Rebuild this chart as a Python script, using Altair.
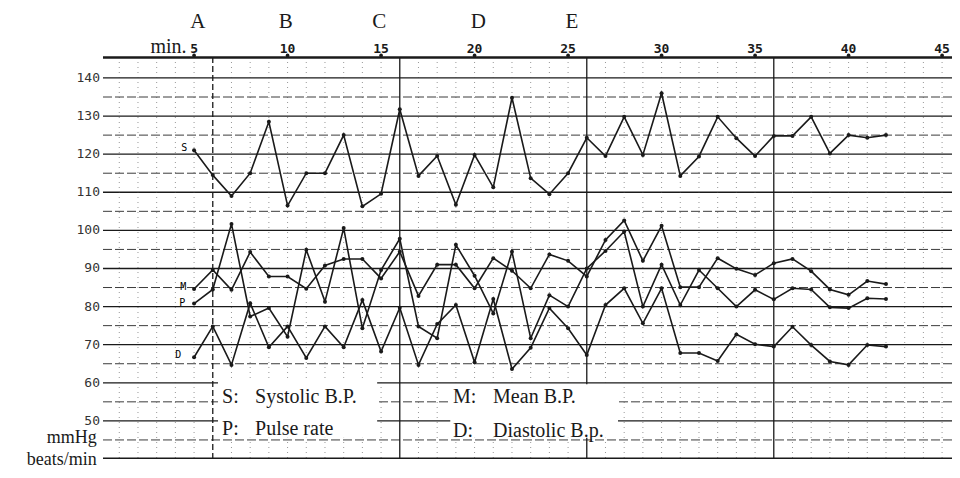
import altair as alt
import pandas as pd

# ---- data ----
minutes = list(range(5, 43))
systolic = [121, 114.5, 109, 115, 128.5, 106.5, 115, 115, 125, 106.3,
            109.6, 131.8, 114.3, 119.5, 106.7, 119.8, 111.3, 134.8, 113.7, 109.5,
            115, 124.3, 119.5, 129.8, 119.8, 136, 114.3, 119.4, 129.8, 124.2,
            119.5, 124.8, 124.8, 129.8, 120.2, 125, 124.3, 125]
mean_bp = [84.6, 89.6, 84.4, 94.3, 87.9, 87.9, 84.7, 90.8, 92.5, 92.5,
           87.4, 94.4, 82.8, 91, 91, 84.8, 92.7, 89.4, 84.8, 93.7,
           92, 87.9, 97.5, 102.6, 92, 101.2, 85.1, 85.1, 92.7, 89.9,
           88.3, 91.4, 92.5, 89.3, 84.5, 83.1, 86.7, 85.9]
pulse = [80.8, 84.5, 101.7, 77.4, 79.6, 72.1, 94.9, 81.3, 100.6, 74.3,
         89.6, 97.8, 74.8, 71.7, 96.2, 88.1, 78.2, 94.4, 71.7, 83,
         80, 90, 94.6, 99.7, 80, 91, 80.4, 89.6, 84.8, 80,
         84.4, 81.9, 84.8, 84.5, 79.8, 79.6, 82.2, 82]
diastolic = [66.7, 74.8, 64.7, 80.9, 69.3, 74.8, 66.5, 74.8, 69.3, 81.7,
             68.2, 79.7, 64.7, 75.4, 80.4, 65.4, 82, 63.6, 69.2, 79.6,
             74.3, 67.3, 80.4, 84.8, 75.6, 84.8, 67.8, 67.8, 65.7, 72.7,
             70.1, 69.5, 74.7, 69.9, 65.6, 64.7, 69.9, 69.5]

y_ticks = [50, 60, 70, 80, 90, 100, 110, 120, 130, 140]
half_lines = [45, 55, 65, 75, 85, 95, 105, 115, 125, 135]
x_ticks = [5, 10, 15, 20, 25, 30, 35, 40, 45]
solid_vlines = [16, 26, 36]
dashed_vlines = [6]
dotted_vlines = [m for m in range(1, 46) if m not in (6, 16, 26, 36)]

phase_letters = ["A", "B", "C", "D", "E"]
phase_minutes = [5.2, 9.9, 14.9, 20.2, 25.2]

series_keys = ["S", "M", "P", "D"]
legend_names = ["Systolic B.P.", "Mean B.P.", "Pulse rate", "Diastolic B.p."]

# ---- tables ----
rows = []
for key, vals in zip(series_keys, [systolic, mean_bp, pulse, diastolic]):
    for m, v in zip(minutes, vals):
        rows.append({"minute": m, "value": v, "series": key})
df = pd.DataFrame(rows)

XS = alt.Scale(domain=[0.13, 45.53], nice=False, zero=False)
YS = alt.Scale(domain=[40, 145.5], nice=False, zero=False)
INK = "#1a1a1a"
TOP = 145.5

def X(field):
    return alt.X(field, type="quantitative", scale=XS, axis=None, title=None)

def Y(field):
    return alt.Y(field, type="quantitative", scale=YS, axis=None, title=None)

# grid lines
major = alt.Chart(pd.DataFrame({"y": y_ticks})).mark_rule(color=INK, strokeWidth=1.3).encode(y=Y("y"))
minor = alt.Chart(pd.DataFrame({"y": half_lines})).mark_rule(
    color=INK, strokeWidth=1, strokeDash=[9, 3], opacity=0.85).encode(y=Y("y"))
frame = alt.Chart(pd.DataFrame({"y": [TOP - 0.15]})).mark_rule(color=INK, strokeWidth=2.4).encode(y=Y("y"))
bottom = alt.Chart(pd.DataFrame({"y": [40.2]})).mark_rule(color=INK, strokeWidth=1.6).encode(y=Y("y"))

dotted = alt.Chart(pd.DataFrame({"x": dotted_vlines})).mark_rule(
    color="#444", strokeWidth=1, strokeDash=[1, 4], opacity=0.55).encode(x=X("x"))
vsolid = alt.Chart(pd.DataFrame({"x": solid_vlines})).mark_rule(color=INK, strokeWidth=1.3).encode(x=X("x"))
vdash = alt.Chart(pd.DataFrame({"x": dashed_vlines})).mark_rule(
    color=INK, strokeWidth=1.3, strokeDash=[6, 3]).encode(x=X("x"))

# tick labels (y on the left, minutes along the top)
ylab = alt.Chart(pd.DataFrame({"v": y_ticks, "x": [-0.03] * len(y_ticks)})).mark_text(
    font="DejaVu Sans Mono", fontSize=13, color="#333", align="right", baseline="middle").encode(
    x=X("x"), y=Y("v"), text=alt.Text("v:Q"))
xlab = alt.Chart(pd.DataFrame({"m": x_ticks, "y": [146.6] * len(x_ticks)})).mark_text(
    font="DejaVu Sans Mono", fontSize=13, fontWeight="bold", color=INK,
    align="center", baseline="alphabetic").encode(
    x=X("m"), y=Y("y"), text=alt.Text("m:Q"))
xdots = alt.Chart(pd.DataFrame({"m": x_ticks, "y": [TOP + 0.4] * len(x_ticks)})).mark_circle(
    color=INK, size=14, opacity=1).encode(x=X("m"), y=Y("y"))

# legend boxes (white panels over the grid)
boxes = pd.DataFrame({"x": [6.28, 18.7], "x2": [14.79, 27.67], "y": [60.5, 59.6], "y2": [45.6, 45.6]})
box_layer = alt.Chart(boxes).mark_rect(color="white").encode(
    x=X("x"), x2="x2", y=Y("y"), y2="y2")

legend_df = pd.DataFrame({
    "key": ["S:", "M:", "P:", "D:"],
    "name": legend_names,
    "kx": [6.5, 18.85, 6.5, 18.85],
    "nx": [8.26, 20.99, 8.26, 20.99],
    "y": [54.7, 54.7, 46.4, 45.8],
})
legend_keys = alt.Chart(legend_df).mark_text(
    font="Liberation Serif", fontSize=20, align="left", baseline="alphabetic", color=INK).encode(
    x=X("kx"), y=Y("y"), text="key:N")
legend_names_layer = alt.Chart(legend_df).mark_text(
    font="Liberation Serif", fontSize=20, align="left", baseline="alphabetic", color=INK).encode(
    x=X("nx"), y=Y("y"), text="name:N")

# data
lines = alt.Chart(df).mark_line(color=INK, strokeWidth=1.6).encode(
    x=X("minute"), y=Y("value"), detail="series:N")
points = alt.Chart(df).mark_circle(color=INK, size=16, opacity=1).encode(
    x=X("minute"), y=Y("value"), detail="series:N")

# series tags near first points
tags = pd.DataFrame({"t": ["S", "M", "P", "D"], "x": [4.47, 4.42, 4.37, 4.16],
                     "y": [121.6, 85.1, 80.9, 67.3]})
tag_layer = alt.Chart(tags).mark_text(font="DejaVu Sans Mono", fontSize=10, color="#000000",
                                      align="center", baseline="middle").encode(
    x=X("x"), y=Y("y"), text="t:N")

# phase letters
phases = pd.DataFrame({"t": phase_letters, "x": phase_minutes, "y": [153.1] * 5})
phase_layer = alt.Chart(phases).mark_text(font="Liberation Serif", fontSize=21, color=INK,
                                          align="center", baseline="alphabetic").encode(
    x=X("x"), y=Y("y"), text="t:N")

# unit labels
units = pd.DataFrame({"t": ["min.", "mmHg", "beats/min"], "x": [4.6, -0.2, -0.2],
                      "y": [146.6, 44.3, 38.4], "s": [20, 18, 18]})
unit_layer = alt.Chart(units).mark_text(font="Liberation Serif", color=INK,
                                        align="right", baseline="alphabetic").encode(
    x=X("x"), y=Y("y"), text="t:N",
    size=alt.Size("s:Q", scale=None, legend=None))

chart = alt.layer(
    major, minor, dotted, vsolid, vdash, frame, bottom,
    box_layer, legend_keys, legend_names_layer,
    lines, points, tag_layer, phase_layer, unit_layer, ylab, xlab, xdots,
).properties(
    width=849, height=402,
    autosize=alt.AutoSizeParams(type="none"),
    padding={"left": 95, "top": 49, "right": 0, "bottom": 11},
    background="white",
).configure_view(stroke=None)

chart.save("out.html", embed_options={"renderer": "svg", "actions": False})
